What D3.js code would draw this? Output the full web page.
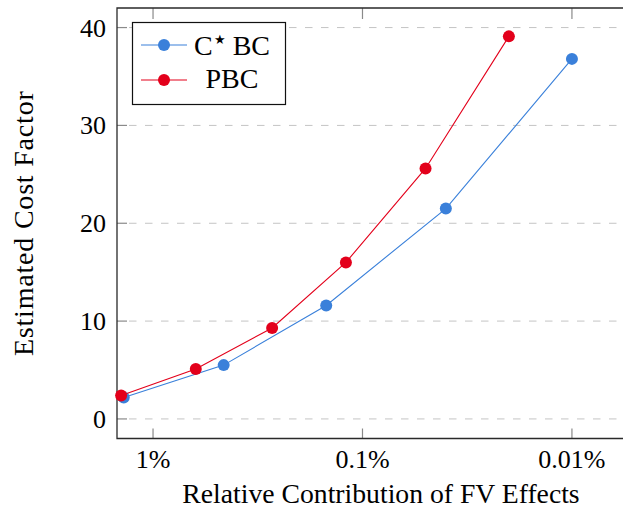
<!DOCTYPE html>
<html>
<head>
<meta charset="utf-8">
<script src="https://cdn.jsdelivr.net/npm/d3@7"></script>
<style>
  body { margin: 0; background: #fff; }
  svg text { font-family: 'Liberation Serif', 'Times New Roman', Times, 'DejaVu Serif', serif; }
</style>
</head>
<body>
<div id="chart"></div>
<script>
// Data (x = relative contribution in %, log scale, reversed)
const cbcX = [1.38, 0.46, 0.149, 0.040, 0.010];
const cbcY = [2.2, 5.5, 11.6, 21.5, 36.8];
const pbcX = [1.42, 0.625, 0.27, 0.12, 0.050, 0.020];
const pbcY = [2.4, 5.1, 9.3, 16.0, 25.6, 39.1];

const xTicks = [1, 0.1, 0.01];
const xTickLabels = ["1%", "0.1%", "0.01%"];
const yTicks = [0, 10, 20, 30, 40];

const series = [
    { name: "C", sup: "\u2605", rest: " BC", color: "#3a80da", xs: cbcX, ys: cbcY },
    { name: "PBC", sup: "", rest: "", color: "#e3001b", xs: pbcX, ys: pbcY }
];

const W = 623, H = 514;
const plotL = 117, plotR = 646, plotT = 8, plotB = 438.5;
const serif = "'Liberation Serif', 'Times New Roman', Times, 'DejaVu Serif', serif";

const svg = d3.select("#chart").append("svg")
    .attr("width", W)
    .attr("height", H)
    .style("display", "block");

// Scales
const x = d3.scaleLog().domain([1.486, 0.00443]).range([plotL, plotR]);
const y = d3.scaleLinear().domain([-2, 42]).range([plotB, plotT]);

// Grid lines (horizontal, dashed)
svg.append("g")
    .selectAll("line")
    .data(yTicks)
    .enter().append("line")
    .attr("x1", plotL + 12).attr("x2", plotR)
    .attr("y1", d => y(d)).attr("y2", d => y(d))
    .attr("stroke", "#c4c4c4")
    .attr("stroke-width", 1)
    .attr("stroke-dasharray", "7.5,8.5");

// Tick marks
const tickCol = "#8a8a8a";
svg.append("g").selectAll("line")
    .data(xTicks).enter().append("line")
    .attr("x1", d => x(d)).attr("x2", d => x(d))
    .attr("y1", plotB).attr("y2", plotB - 10)
    .attr("stroke", tickCol).attr("stroke-width", 1.2);
svg.append("g").selectAll("line")
    .data(xTicks).enter().append("line")
    .attr("x1", d => x(d)).attr("x2", d => x(d))
    .attr("y1", plotT).attr("y2", plotT + 11)
    .attr("stroke", tickCol).attr("stroke-width", 1.2);
svg.append("g").selectAll("line")
    .data(yTicks).enter().append("line")
    .attr("x1", plotL).attr("x2", plotL + 10)
    .attr("y1", d => y(d)).attr("y2", d => y(d))
    .attr("stroke", tickCol).attr("stroke-width", 1.2);

// Axis frame
svg.append("path")
    .attr("d", `M${plotR},${plotT}H${plotL}V${plotB}H${plotR}`)
    .attr("fill", "none")
    .attr("stroke", "#2a2a2a")
    .attr("stroke-width", 1.3);

// Tick labels
svg.append("g").selectAll("text")
    .data(xTicks).enter().append("text")
    .attr("font-family", serif)
    .attr("x", d => x(d))
    .attr("y", 468)
    .attr("text-anchor", "middle")
    .attr("font-size", 26)
    .text((d, i) => xTickLabels[i]);

svg.append("g").selectAll("text")
    .data(yTicks).enter().append("text")
    .attr("font-family", serif)
    .attr("x", 106)
    .attr("y", d => y(d) + 9)
    .attr("text-anchor", "end")
    .attr("font-size", 26)
    .text(d => d);

// Axis labels
svg.append("text")
    .attr("font-family", serif)
    .attr("x", 381)
    .attr("y", 503)
    .attr("text-anchor", "middle")
    .attr("font-size", 27.7)
    .text("Relative Contribution of FV Effects");

svg.append("text")
    .attr("font-family", serif)
    .attr("transform", `translate(33,${(plotT + plotB) / 2}) rotate(-90)`)
    .attr("text-anchor", "middle")
    .attr("font-size", 28)
    .attr("letter-spacing", 0.8)
    .text("Estimated Cost Factor");

// Lines and markers
const line = d3.line().x(d => x(d[0])).y(d => y(d[1]));

series.forEach(s => {
    const pts = s.xs.map((v, i) => [v, s.ys[i]]);
    svg.append("path")
        .datum(pts)
        .attr("d", line)
        .attr("fill", "none")
        .attr("stroke", s.color)
        .attr("stroke-width", 1.1);
    svg.append("g").selectAll("circle")
        .data(pts).enter().append("circle")
        .attr("cx", d => x(d[0]))
        .attr("cy", d => y(d[1]))
        .attr("r", 6)
        .attr("fill", s.color);
});

// Legend
const legend = svg.append("g");
legend.append("rect")
    .attr("x", 132.5).attr("y", 22.5)
    .attr("width", 153).attr("height", 82)
    .attr("fill", "#fff")
    .attr("stroke", "#111")
    .attr("stroke-width", 1.2);

const legRows = [45, 80];
const legBase = [55, 88];
series.forEach((s, i) => {
    legend.append("line")
        .attr("x1", 141).attr("x2", 187)
        .attr("y1", legRows[i]).attr("y2", legRows[i])
        .attr("stroke", s.color).attr("stroke-width", 1.1);
    legend.append("circle")
        .attr("cx", 164).attr("cy", legRows[i])
        .attr("r", 6).attr("fill", s.color);
    const t = legend.append("text")
        .attr("font-family", serif)
        .attr("x", 232).attr("y", legBase[i])
        .attr("text-anchor", "middle")
        .attr("font-size", 28);
    t.append("tspan").text(s.name);
    if (s.sup) {
        t.append("tspan").attr("font-size", 13).attr("dy", -11).attr("dx", 1).text(s.sup);
        t.append("tspan").attr("dy", 11).text(s.rest);
    }
});
</script>
</body>
</html>
